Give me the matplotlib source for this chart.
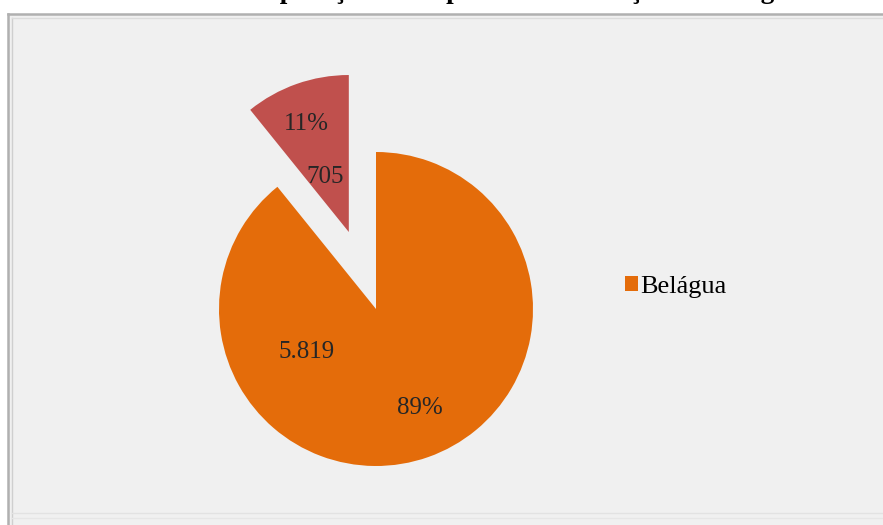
import numpy as np
import matplotlib
matplotlib.use('Agg')
import matplotlib.pyplot as plt
from matplotlib.patches import Rectangle
from matplotlib.lines import Line2D

# data
categorias = ['Belágua', '']
valores = [5819, 705]
cores = ['#E46C0A', '#C0504D']
explode = [0, 0.52]
titulo = 'Comparação entre pessoas na situação de Belágua'

# label placement (distance, angle offset in deg) relative to each wedge
pos_valor = [(0.52, -78.0), (0.38, 3.6)]
pos_pct = [(0.69, 4.7), (0.74, 2.0)]

plt.rcParams['font.family'] = ['Liberation Serif', 'DejaVu Serif']

W, H = 883, 525
fig = plt.figure(figsize=(W / 100, H / 100), dpi=100)
fig.patch.set_facecolor('white')


def px(x, y):
    # pixel position (from top-left) to figure fraction
    return x / W, 1 - y / H


# chart panel: light fill, grey edge on the left and top, faint at the bottom
fig.patches.append(Rectangle(px(8, 525), 1.0, (525 - 14) / H,
                             transform=fig.transFigure, facecolor='#f0f0f0',
                             edgecolor='none', zorder=-3))
for (x1, y1), (x2, y2), c, lw in [((8, 525), (8, 14), '#b0b0b0', 1.8),
                                  ((8, 14), (883, 14), '#b0b0b0', 1.8),
                                  ((12, 525), (12, 18), '#cfcfcf', 1.0),
                                  ((12, 18), (883, 18), '#dcdcdc', 1.0),
                                  ((12, 513), (883, 513), '#e2e2e2', 1.0),
                                  ((12, 518), (883, 518), '#e6e6e6', 1.0)]:
    xa, ya = px(x1, y1)
    xb, yb = px(x2, y2)
    fig.lines.append(Line2D([xa, xb], [ya, yb], transform=fig.transFigure,
                            color=c, lw=lw, zorder=-2))

# title sits mostly above the page edge
fig.text(224 / W, 1 + 2 / H, titulo, ha='left', va='baseline',
         fontsize=19.5, fontweight='bold', color='black')

# pie axes: 1 data unit = 157 px, centre at (376, 309)
r_px = 157
span = 1.6
cx, cy = 376, H - 309
ax = fig.add_axes([(cx - span * r_px) / W, (cy - span * r_px) / H,
                   2 * span * r_px / W, 2 * span * r_px / H])
ax.patch.set_visible(False)

wedges, _ = ax.pie(valores, colors=cores, explode=explode, startangle=90,
                   counterclock=False, radius=1.0,
                   wedgeprops=dict(linewidth=0))
ax.set_xlim(-span, span)
ax.set_ylim(-span, span)
ax.set_aspect('equal')
ax.axis('off')

total = sum(valores)
for w, v, pv, pp in zip(wedges, valores, pos_valor, pos_pct):
    mid = np.deg2rad((w.theta1 + w.theta2) / 2)
    x0, y0 = w.center
    txt_v = f'{v:,}'.replace(',', '.')
    txt_p = f'{round(100 * v / total)}%'
    for (d, off), txt in ((pv, txt_v), (pp, txt_p)):
        a = mid + np.deg2rad(off)
        ax.text(x0 + d * np.cos(a), y0 + d * np.sin(a), txt,
                ha='center', va='center', fontsize=18, color='#262626')

leg = fig.legend([wedges[0]], [categorias[0]], loc='center left',
                 bbox_to_anchor=(601 / W, 1 - 287 / H), frameon=False,
                 handlelength=0.5, handleheight=0.5, handletextpad=0.1,
                 fontsize=19)

fig.savefig('out.png', dpi=100, facecolor='white')
